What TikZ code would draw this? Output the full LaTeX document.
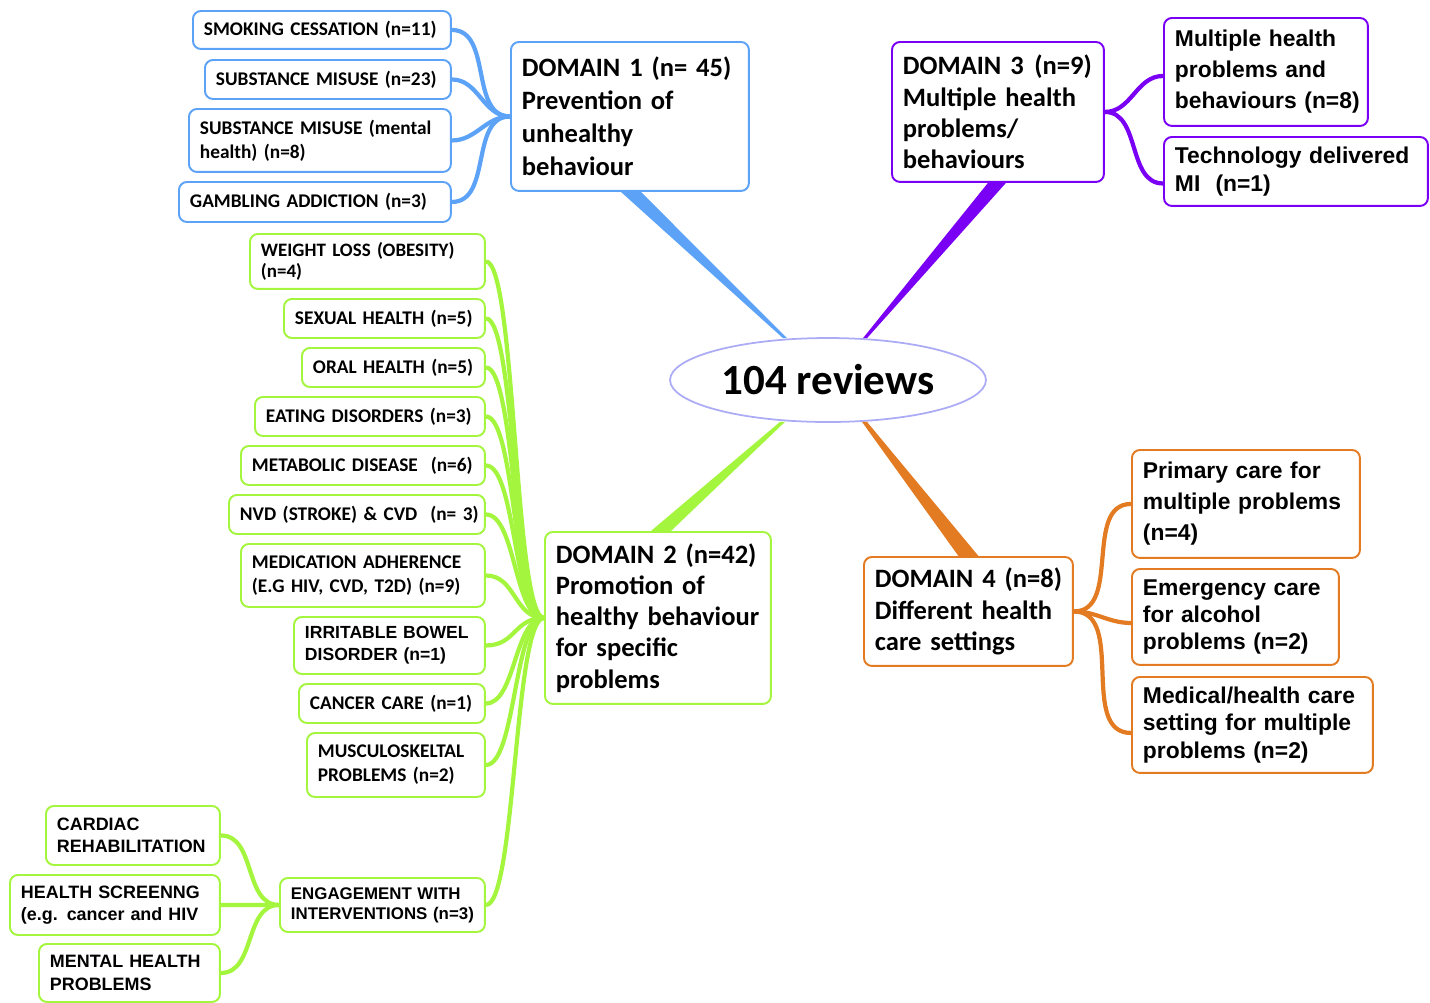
\documentclass[tikz,border=0pt]{standalone}
\usepackage{fontspec}
\setmainfont{Carlito}
\newfontfamily\domfont{Carlito}[WordSpace=0.7]
\newfontfamily\arial{Liberation Sans}
\usetikzlibrary{calc, shapes.geometric}
\definecolor{cblue}{RGB}{92,162,247}
\definecolor{cpurple}{RGB}{122,0,245}
\definecolor{cgreen}{RGB}{164,245,62}
\definecolor{corange}{RGB}{226,123,34}
\definecolor{cring}{RGB}{172,172,246}

\begin{document}
\begin{tikzpicture}[x=0.02cm, y=-0.02cm,
  box/.style={draw, line width=1.1pt, rounded corners=0.16cm, anchor=north west, align=left, inner xsep=0.22cm, inner ysep=0pt,
    execute at begin node={\rightskip=0pt plus 1fil minus 100pt}},
  leaf/.style={box, font=\fontsize{11}{13.8}\selectfont\bfseries},
  leafa/.style={box, font=\fontsize{10.2}{12.7}\selectfont\arial\bfseries},
  dom/.style={box, font=\domfont\fontsize{15.1}{17.8}\selectfont\bfseries},
  suba/.style={box, font=\fontsize{13}{15.6}\selectfont\arial\bfseries},
  link/.style={line width=2.4pt},
  fan/.style={out=180, in=0, distance=0.6cm}]
  \useasboundingbox (0,0) rectangle (1430,1002);

  \node[ellipse, draw=cring, fill=white, line width=1pt, minimum width=6.32cm, minimum height=1.68cm, inner sep=0pt, font=\fontsize{24.5}{28}\selectfont\bfseries] (rev) at (828,380) {104 reviews};

  % domain 1
  \node[dom, draw=cblue, text width=4.32cm, minimum height=2.98cm, font=\domfont\fontsize{15.1}{18.7}\selectfont\bfseries] (d1) at (510,41) {DOMAIN 1 (n= 45)\\Prevention of\\unhealthy\\behaviour};
  \node[leaf, draw=cblue, text width=4.72cm, minimum height=0.76cm] (s1) at (192,10) {SMOKING CESSATION (n=11)};
  \node[leaf, draw=cblue, text width=4.48cm, minimum height=0.78cm] (s2) at (204,59) {SUBSTANCE MISUSE (n=23)};
  \node[leaf, draw=cblue, text width=4.80cm, minimum height=1.26cm] (s3) at (188,108) {SUBSTANCE MISUSE (mental\\health) (n=8)};
  \node[leaf, draw=cblue, text width=5.00cm, minimum height=0.80cm] (s4) at (178,181) {GAMBLING ADDICTION (n=3)};

  % domain 3
  \node[dom, draw=cpurple, text width=3.80cm, minimum height=2.80cm] (d3) at (891,41) {DOMAIN 3\ \hspace{1pt}(n=9)\\Multiple health\\problems/\\behaviours};
  \node[suba, draw=cpurple, text width=3.64cm, minimum height=2.16cm, font=\fontsize{13}{17.6}\selectfont\arial\bfseries] (p1) at (1163,17) {Multiple health\\problems and\\behaviours (n=8)};
  \node[suba, draw=cpurple, text width=4.84cm, minimum height=1.38cm] (p2) at (1163,136) {Technology delivered\\MI\ \ (n=1)};

  % domain 2
  \node[dom, draw=cgreen, text width=4.08cm, minimum height=3.44cm] (d2) at (544,531) {DOMAIN 2 (n=42)\\Promotion of\\healthy behaviour\\for specific\\problems};
  \node[leaf, draw=cgreen, text width=4.26cm, minimum height=1.10cm, font=\fontsize{10.8}{12}\selectfont\bfseries] (g1) at (249,233) {WEIGHT LOSS (OBESITY)\\(n=4)};
  \node[leaf, draw=cgreen, text width=3.58cm, minimum height=0.78cm] (g2) at (283,298) {SEXUAL HEALTH (n=5)};
  \node[leaf, draw=cgreen, text width=3.22cm, minimum height=0.78cm] (g3) at (301,347) {ORAL HEALTH (n=5)};
  \node[leaf, draw=cgreen, text width=4.16cm, minimum height=0.78cm] (g4) at (254,396) {EATING DISORDERS (n=3)};
  \node[leaf, draw=cgreen, text width=4.44cm, minimum height=0.78cm] (g5) at (240,445) {METABOLIC DISEASE\ \ (n=6)};
  \node[leaf, draw=cgreen, text width=4.68cm, minimum height=0.78cm] (g6) at (228,494) {NVD (STROKE) \& CVD\ \ (n= 3)};
  \node[leaf, draw=cgreen, text width=4.44cm, minimum height=1.26cm] (g7) at (240,543) {MEDICATION ADHERENCE\\(E.G HIV, CVD, T2D) (n=9)};
  \node[leafa, draw=cgreen, text width=3.38cm, minimum height=1.14cm, font=\fontsize{10}{12.5}\selectfont\arial\bfseries] (g8) at (293,616) {IRRITABLE BOWEL\\DISORDER (n=1)};
  \node[leaf, draw=cgreen, text width=3.28cm, minimum height=0.78cm] (g9) at (298,683) {CANCER CARE (n=1)};
  \node[leaf, draw=cgreen, text width=3.12cm, minimum height=1.28cm] (g10) at (306,732) {MUSCULOSKELTAL\\PROBLEMS (n=2)};
  \node[leafa, draw=cgreen, text width=3.66cm, minimum height=1.08cm, font=\fontsize{9.6}{11.4}\selectfont\arial\bfseries] (g11) at (279,877) {ENGAGEMENT WITH\\INTERVENTIONS (n=3)};
  \node[leafa, draw=cgreen, text width=3.04cm, minimum height=1.18cm] (e1) at (45,805) {CARDIAC\\REHABILITATION};
  \node[leafa, draw=cgreen, text width=3.76cm, minimum height=1.20cm] (e2) at (9,874) {HEALTH SCREENNG\\(e.g. cancer and HIV};
  \node[leafa, draw=cgreen, text width=3.18cm, minimum height=1.16cm] (e3) at (38,943) {MENTAL HEALTH\\PROBLEMS};

  % domain 4
  \node[dom, draw=corange, text width=3.74cm, minimum height=2.18cm] (d4) at (863,556) {DOMAIN 4 (n=8)\\Different health\\care settings};
  \node[suba, draw=corange, text width=4.12cm, minimum height=2.16cm, font=\fontsize{13}{17.6}\selectfont\arial\bfseries] (o1) at (1131,449) {Primary care for\\multiple problems\\(n=4)};
  \node[suba, draw=corange, text width=3.70cm, minimum height=1.92cm] (o2) at (1131,568) {Emergency care\\for alcohol\\problems (n=2)};
  \node[suba, draw=corange, text width=4.38cm, minimum height=1.92cm] (o3) at (1131,676) {Medical/health care\\setting for multiple\\problems (n=2)};

  % tapered branches
  \fill[cblue] ($(d1.south)+(-9,0)$) -- ($(d1.south)+(11,0)$) -- ($(rev.north)+(-41,1)$) -- ($(rev.north)+(-45,1)$) -- cycle;
  \fill[cpurple] ($(d3.south)+(-10,0)$) -- ($(d3.south)+(8,0)$) -- ($(rev.north)+(39,1)$) -- ($(rev.north)+(35,1)$) -- cycle;
  \fill[cgreen] ($(d2.north)+(-7,0)$) -- ($(d2.north)+(13,0)$) -- ($(rev.south)+(-43,-1)$) -- ($(rev.south)+(-48,-1)$) -- cycle;
  \fill[corange] ($(d4.north)+(-10,0)$) -- ($(d4.north)+(10,0)$) -- ($(rev.south)+(39,-1)$) -- ($(rev.south)+(34,-1)$) -- cycle;

  \draw[link, cblue] (d1.west) to[out=180, in=0] (s1.east);
  \draw[link, cblue] (d1.west) to[out=180, in=0] (s2.east);
  \draw[link, cblue] (d1.west) to[out=180, in=0] (s3.east);
  \draw[link, cblue] (d1.west) to[out=180, in=0] (s4.east);

  \draw[link, cpurple] (d3.east) to[out=0, in=180] ($(p1.west)+(0,4)$);
  \draw[link, cpurple] (d3.east) to[out=0, in=180] ($(p2.west)+(0,12)$);

  \draw[link, cgreen] (d2.west) to[fan] (g1.east);
  \draw[link, cgreen] (d2.west) to[fan] (g2.east);
  \draw[link, cgreen] (d2.west) to[fan] (g3.east);
  \draw[link, cgreen] (d2.west) to[fan] (g4.east);
  \draw[link, cgreen] (d2.west) to[fan] (g5.east);
  \draw[link, cgreen] (d2.west) to[fan] (g6.east);
  \draw[link, cgreen] (d2.west) to[fan] (g7.east);
  \draw[link, cgreen] (d2.west) to[fan] (g8.east);
  \draw[link, cgreen] (d2.west) to[fan] (g9.east);
  \draw[link, cgreen] (d2.west) to[fan] (g10.east);
  \draw[link, cgreen] (d2.west) to[fan] (g11.east);
  \draw[link, cgreen] (g11.west) to[out=180, in=0] (e1.east);
  \draw[link, cgreen] (g11.west) to[out=180, in=0] (e2.east);
  \draw[link, cgreen] (g11.west) to[out=180, in=0] (e3.east);

  \draw[link, corange] (d4.east) to[out=0, in=180] (o1.west);
  \draw[link, corange] (d4.east) to[out=0, in=180] ($(o2.west)+(0,6)$);
  \draw[link, corange] (d4.east) to[out=0, in=180] ($(o3.west)+(0,8)$);
\end{tikzpicture}
\end{document}
